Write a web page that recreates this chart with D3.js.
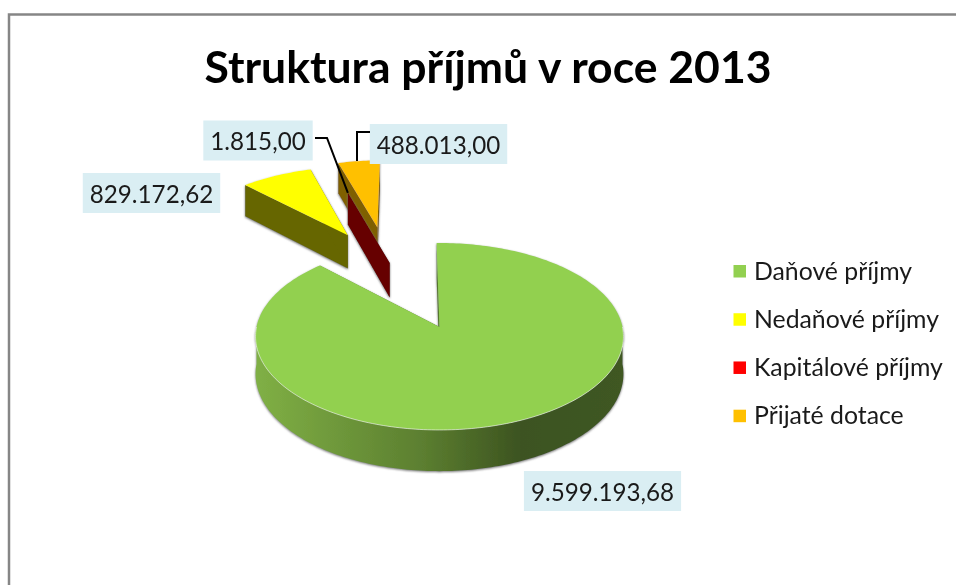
<!DOCTYPE html>
<meta charset="utf-8">
<style>
  html, body { margin: 0; padding: 0; background: #fff; overflow: hidden; }
  text { font-family: Lato, "Open Sans", sans-serif; fill: #1a1a1a; }
  svg { filter: blur(0.45px); }
</style>
<body>
<div id="chart"></div>
<script src="https://d3js.org/d3.v7.min.js"></script>
<script>

// Chart data
var title = "Struktura příjmů v roce 2013";
var categories = ["Daňové příjmy", "Nedaňové příjmy", "Kapitálové příjmy", "Přijaté dotace"];
var values = [9599193.68, 829172.62, 1815.00, 488013.00];
var valueLabels = ["9.599.193,68", "829.172,62", "1.815,00", "488.013,00"];

// Slice styling
var topColors = ["#92d050", "#ffff00", "#ff0000", "#ffc000"];
var faceColors = ["#92d050", "#ffff00", "#6b0000", "#ffc000"];
var wallColors = ["url(#greenWall)", "#666600", "#660000", "#7f6000"];
var explode = [0.62, 0.62, 0.18, 0.65];
var explodeTurn = [0, 0, 0, -3.5];

var width = 956, height = 585;

var svg = d3.select("#chart").append("svg")
    .attr("width", width)
    .attr("height", height)
    .style("display", "block");

var defs = svg.append("defs");

// Side of the big slice goes from mid green to dark olive
var wallGrad = defs.append("linearGradient")
    .attr("id", "greenWall")
    .attr("gradientUnits", "userSpaceOnUse")
    .attr("x1", 255).attr("x2", 625).attr("y1", 0).attr("y2", 0);
[[0, "#80b045"], [0.45, "#5c7f30"], [0.72, "#3c5320"], [1, "#3f5822"]].forEach(function(s) {
  wallGrad.append("stop").attr("offset", s[0]).attr("stop-color", s[1]);
});

var shadow = defs.append("filter").attr("id", "shadow")
    .attr("x", "-10%").attr("y", "-10%").attr("width", "120%").attr("height", "130%");
shadow.append("feDropShadow")
    .attr("dx", 0).attr("dy", 1)
    .attr("stdDeviation", 1.2)
    .attr("flood-color", "#777");

// Frame
svg.append("path")
    .attr("d", "M9,585V14.5H956")
    .attr("fill", "none")
    .attr("stroke", "#868686")
    .attr("stroke-width", 2.5);

svg.append("text")
    .attr("x", 488)
    .attr("y", 83)
    .attr("text-anchor", "middle")
    .attr("font-size", 44.5)
    .attr("font-weight", 700)
    .style("fill", "#000")
    .text(title);

// Perspective projection of the pie plane, near side comes out bigger
var cx = 439.5, cy = 327;
var rx = 183, ry = 92.5, tilt = 0.1016, depth = 37;

function project(u, v, z) {
  var w = 1 - tilt * v;
  return [cx + rx * u / w, cy + (ry * v + depth * z) / w];
}

var rotation = -1 * Math.PI / 180;
var pie = d3.pie().sort(null)
    .startAngle(rotation)
    .endAngle(rotation + 2 * Math.PI);
var slices = pie(values);

// Green slice sits at the origin of the plane, so the others are
// placed relative to the common centre behind it
var first = (slices[0].startAngle + slices[0].endAngle) / 2;
var hub = [-Math.sin(first) * explode[0], Math.cos(first) * explode[0]];

slices.forEach(function(s, i) {
  var mid = (s.startAngle + s.endAngle) / 2;
  var dir = mid + explodeTurn[i] * Math.PI / 180;
  s.ou = hub[0] + Math.sin(dir) * explode[i];
  s.ov = hub[1] - Math.cos(dir) * explode[i];
  s.mid = mid;
});

function rim(s, a, z) {
  return project(s.ou + Math.sin(a), s.ov - Math.cos(a), z);
}

function arcPoints(s, a0, a1, z) {
  var n = Math.max(2, Math.ceil(Math.abs(a1 - a0) / 0.02));
  return d3.range(n + 1).map(function(k) {
    return rim(s, a0 + (a1 - a0) * k / n, z);
  });
}

var line = d3.line();

// Back slices first so the nearer ones cover them
var order = [3, 1, 2, 0];
var pieG = svg.append("g");

order.forEach(function(i) {
  var s = slices[i];
  var g = pieG.append("g").attr("filter", "url(#shadow)");
  var apexT = project(s.ou, s.ov, 0), apexB = project(s.ou, s.ov, 1);

  // cut faces
  [s.startAngle, s.endAngle].forEach(function(a) {
    var p = rim(s, a, 0), q = rim(s, a, 1);
    g.append("path")
      .attr("d", line([apexT, p, q, apexB]) + "Z")
      .attr("fill", wallColors[i]);
  });

  // outer wall, only the part turned to the viewer
  var a0 = Math.max(s.startAngle, Math.PI / 2);
  var a1 = Math.min(s.endAngle, 3 * Math.PI / 2);
  if (a1 > a0) {
    g.append("path")
      .attr("d", line(arcPoints(s, a0, a1, 0).concat(arcPoints(s, a1, a0, 1))) + "Z")
      .attr("fill", wallColors[i]);
  }

  // top face
  g.append("path")
    .attr("d", line([apexT].concat(arcPoints(s, s.startAngle, s.endAngle, 0))) + "Z")
    .attr("fill", faceColors[i]);

  if (a1 > a0) {
    pieG.append("path")
      .attr("d", line(arcPoints(s, a0, a1, 0)))
      .attr("fill", "none")
      .attr("stroke", "#fff")
      .attr("stroke-opacity", 0.7)
      .attr("stroke-width", 0.8);
  }
});

// Data labels with their light blue boxes
var labelCenters = [[602.5, 491], [151.5, 193], [258, 140.5], [438.5, 144]];
var labelG = svg.append("g");

// leader lines start at the box edge and end on the slice rim
var redEnd = rim(slices[2], slices[2].mid, 0);
var orangeEnd = rim(slices[3], slices[3].mid, 0);

valueLabels.forEach(function(t, i) {
  var g = labelG.append("g");
  var box = g.append("rect").attr("fill", "#daeef3");
  var txt = g.append("text")
      .attr("x", labelCenters[i][0])
      .attr("y", labelCenters[i][1] + 1.5)
      .attr("dy", "0.35em")
      .attr("text-anchor", "middle")
      .attr("font-size", 24.2)
      .text(t);
  var b = txt.node().getBBox();
  box.attr("x", b.x - 7).attr("width", b.width + 14)
     .attr("y", labelCenters[i][1] - 20).attr("height", 40);
});

labelG.append("path")
    .attr("d", line([[315, 138], [327, 138], redEnd]))
    .attr("fill", "none").attr("stroke", "#000").attr("stroke-width", 2);
labelG.append("path")
    .attr("d", line([[370, 132], [357, 132], [357, orangeEnd[1]]]))
    .attr("fill", "none").attr("stroke", "#000").attr("stroke-width", 2);

// Legend
var legendY = d3.scalePoint()
    .domain(categories)
    .range([271, 415.7]);

var legend = svg.append("g").selectAll("g")
    .data(categories)
    .enter().append("g")
    .attr("transform", function(d) { return "translate(733.5," + legendY(d) + ")"; });

legend.append("rect")
    .attr("y", -6)
    .attr("width", 12.5)
    .attr("height", 12.5)
    .attr("fill", function(d, i) { return topColors[i]; });

legend.append("text")
    .attr("x", 20.5)
    .attr("dy", "0.35em")
    .attr("font-size", 24.8)
    .text(function(d) { return d; });

</script>
</body>
